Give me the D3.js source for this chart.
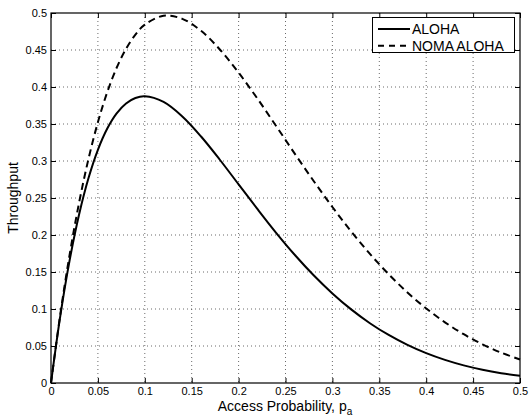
<!DOCTYPE html>
<html lang="en">
  <head>
    <meta charset="UTF-8" />
    <script src="https://d3js.org/d3.v7.min.js"></script>
    <title>Throughput vs access probability</title>
    <style>
      body { margin: 0; background: #fff; }
      text { font-family: "Liberation Sans", Arial, Helvetica, sans-serif; fill: #000; }
    </style>
  </head>
  <body>
    <svg id="chart" width="529" height="418"></svg>
  </body>
  <script>
    // data
    var accessProb = [0, 0.01, 0.02, 0.03, 0.04, 0.05, 0.06, 0.07, 0.08, 0.09, 0.1,
      0.12, 0.14, 0.16, 0.18, 0.2, 0.22, 0.24, 0.26, 0.28, 0.3,
      0.32, 0.34, 0.36, 0.38, 0.4, 0.42, 0.44, 0.46, 0.48, 0.5];
    var alohaThroughput = [0, 0.0914, 0.1667, 0.2281, 0.277, 0.3151, 0.3438, 0.3643, 0.3777, 0.3851, 0.3874,
      0.3798, 0.3602, 0.3331, 0.3017, 0.2684, 0.2352, 0.203, 0.173, 0.1456, 0.1211,
      0.0995, 0.0808, 0.0649, 0.0515, 0.0403, 0.0312, 0.0238, 0.0179, 0.0133, 0.0098];
    var nomaThroughput = [0, 0.0935, 0.1744, 0.244, 0.303, 0.3524, 0.3932, 0.426, 0.4516, 0.4708, 0.4843,
      0.4963, 0.4921, 0.4759, 0.4507, 0.4194, 0.3844, 0.3473, 0.3097, 0.273, 0.2378,
      0.2048, 0.1745, 0.147, 0.1224, 0.1008, 0.082, 0.0659, 0.0523, 0.041, 0.0318];
    var xTicks = [0, 0.05, 0.1, 0.15, 0.2, 0.25, 0.3, 0.35, 0.4, 0.45, 0.5];
    var yTicks = [0, 0.05, 0.1, 0.15, 0.2, 0.25, 0.3, 0.35, 0.4, 0.45, 0.5];
    var seriesNames = ["ALOHA", "NOMA ALOHA"];

    var svg = d3.select("#chart");
    var plotLeft = 51, plotRight = 520, plotTop = 13, plotBottom = 383;

    var x = d3.scaleLinear().domain([0, 0.5]).range([plotLeft, plotRight]);
    var y = d3.scaleLinear().domain([0, 0.5]).range([plotBottom, plotTop]);

    // dotted grid
    var grid = svg.append("g");
    grid.selectAll(".gx")
      .data(xTicks.slice(1, -1))
      .enter()
      .append("line")
      .attr("x1", (d) => x(d)).attr("x2", (d) => x(d))
      .attr("y1", plotTop).attr("y2", plotBottom)
      .attr("stroke", "#444")
      .attr("stroke-width", 0.8)
      .attr("stroke-dasharray", "1,3");
    grid.selectAll(".gy")
      .data(yTicks.slice(1, -1))
      .enter()
      .append("line")
      .attr("x1", plotLeft).attr("x2", plotRight)
      .attr("y1", (d) => y(d)).attr("y2", (d) => y(d))
      .attr("stroke", "#444")
      .attr("stroke-width", 0.8)
      .attr("stroke-dasharray", "1,3");

    // axes, ticks pointing inward on all four sides
    var fmt = (d) => String(d);
    var xAxis = svg.append("g")
      .attr("transform", "translate(0," + plotBottom + ")")
      .call(d3.axisBottom(x).tickValues(xTicks).tickFormat(fmt).tickSizeInner(-5).tickSizeOuter(0).tickPadding(4));
    var yAxis = svg.append("g")
      .attr("transform", "translate(" + plotLeft + ",0)")
      .call(d3.axisLeft(y).tickValues(yTicks).tickFormat(fmt).tickSizeInner(-5).tickSizeOuter(0).tickPadding(4));
    svg.append("g")
      .attr("transform", "translate(0," + plotTop + ")")
      .call(d3.axisTop(x).tickValues(xTicks).tickFormat("").tickSizeInner(-5).tickSizeOuter(0));
    svg.append("g")
      .attr("transform", "translate(" + plotRight + ",0)")
      .call(d3.axisRight(y).tickValues(yTicks).tickFormat("").tickSizeInner(-5).tickSizeOuter(0));

    svg.selectAll(".domain").remove();
    svg.selectAll(".tick line").attr("stroke", "#000").attr("stroke-width", 1);
    svg.selectAll(".tick text")
      .style("font-family", '"Liberation Sans", Arial, sans-serif')
      .style("font-size", "11px")
      .attr("fill", "#000");
    xAxis.selectAll(".tick text").attr("y", 3).attr("dy", "0.85em");
    yAxis.selectAll(".tick text").attr("x", -4);

    // axes box
    svg.append("rect")
      .attr("x", plotLeft).attr("y", plotTop)
      .attr("width", plotRight - plotLeft).attr("height", plotBottom - plotTop)
      .attr("fill", "none")
      .attr("stroke", "#000")
      .attr("stroke-width", 1.2);

    // curves
    var line = d3.line()
      .x((d) => x(d[0]))
      .y((d) => y(d[1]))
      .curve(d3.curveCatmullRom.alpha(0.5));

    svg.append("path")
      .datum(accessProb.map((p, i) => [p, alohaThroughput[i]]))
      .attr("d", line)
      .attr("fill", "none")
      .attr("stroke", "#000")
      .attr("stroke-width", 2);

    svg.append("path")
      .datum(accessProb.map((p, i) => [p, nomaThroughput[i]]))
      .attr("d", line)
      .attr("fill", "none")
      .attr("stroke", "#000")
      .attr("stroke-width", 2)
      .attr("stroke-dasharray", "7,4.5");

    // axis labels
    var xLabel = svg.append("text")
      .attr("x", 285)
      .attr("y", 411)
      .attr("text-anchor", "middle")
      .style("font-size", "14px");
    xLabel.append("tspan").text("Access Probability, p");
    xLabel.append("tspan").attr("dy", 4).style("font-size", "10px").text("a");

    svg.append("text")
      .attr("transform", "translate(18,198) rotate(-90)")
      .attr("text-anchor", "middle")
      .style("font-size", "14px")
      .text("Throughput");

    // legend
    var legend = svg.append("g");
    legend.append("rect")
      .attr("x", 372.5).attr("y", 17.5)
      .attr("width", 142).attr("height", 35)
      .attr("fill", "#fff")
      .attr("stroke", "#000")
      .attr("stroke-width", 1);
    var dashes = [null, "6,5"];
    seriesNames.forEach(function (name, i) {
      var ly = 29 + i * 16.7;
      legend.append("line")
        .attr("x1", 378).attr("x2", 410)
        .attr("y1", ly).attr("y2", ly)
        .attr("stroke", "#000")
        .attr("stroke-width", 2)
        .attr("stroke-dasharray", dashes[i]);
      legend.append("text")
        .attr("x", 412)
        .attr("y", ly)
        .attr("dy", "0.35em")
        .style("font-size", "14px")
        .text(name);
    });
  </script>
</html>
